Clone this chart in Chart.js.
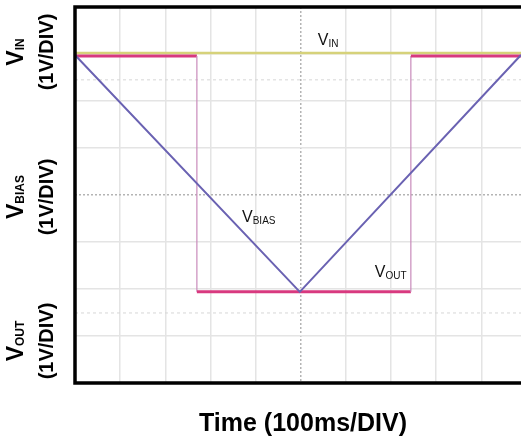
<!DOCTYPE html>
<html><head><meta charset="utf-8">
<script src="https://cdn.jsdelivr.net/npm/chart.js@4"></script>
<style>
html,body{margin:0;padding:0;background:#fff;overflow:hidden;}
#wrap{position:relative;width:521px;height:437px;}
#c{position:absolute;left:0;top:0;}
.yl{position:absolute;font-family:"Liberation Sans",Arial,sans-serif;font-weight:bold;color:#000;transform:translate(-50%,-50%) rotate(-90deg);text-align:center;white-space:nowrap;line-height:27px;font-size:20px;}
.yl .v{font-size:23px;}
.yl sub{font-size:12px;vertical-align:baseline;position:relative;top:1px;}
#xt{position:absolute;left:103px;width:400px;top:408px;line-height:25px;text-align:center;font:bold 25px "Liberation Sans",Arial,sans-serif;color:#000;}
</style></head>
<body>
<div id="wrap">
<canvas id="c" width="521" height="437"></canvas>
<div class="yl" style="left:31px;top:52px;"><span class="v">V<sub>IN</sub></span><br>(1V/DIV)</div>
<div class="yl" style="left:31px;top:197px;"><span class="v">V<sub>BIAS</sub></span><br>(1V/DIV)</div>
<div class="yl" style="left:31px;top:341px;"><span class="v">V<sub>OUT</sub></span><br>(1V/DIV)</div>
<div id="xt">Time (100ms/DIV)</div>
</div>
<script>
// time in divisions (100 ms/DIV), voltage in divisions (1 V/DIV)
const vinX = [0, 9.88];
const vinY = [7.02, 7.02];
const voutX = [0, 2.70, 2.70, 7.44, 7.44, 9.88];
const voutY = [6.96, 6.96, 1.94, 1.94, 6.96, 6.96];
const biasX = [0, 4.98, 9.88];
const biasY = [6.98, 1.94, 6.98];
const cursorY = [6.45, 1.49];
const xRange = [0, 9.88];
const yRange = [0, 8];
const traceLabels = [
  {main: 'V', sub: 'IN', x: 5.38, y: 7.19},
  {main: 'V', sub: 'BIAS', x: 3.70, y: 3.43},
  {main: 'V', sub: 'OUT', x: 6.64, y: 2.26}
];

const pts = (xs, ys) => xs.map((x, i) => ({x, y: ys[i]}));

const cursorSets = cursorY.map(v => ({
  data: pts(xRange, [v, v]),
  borderColor: '#d6d6d6', borderWidth: 1, borderDash: [3, 3],
  pointRadius: 0, order: 4
}));

const deco = {
  id: 'deco',
  afterDatasetsDraw(c) {
    const {ctx, chartArea: a, scales: {x, y}} = c;
    ctx.save();
    ctx.strokeStyle = '#000';
    ctx.lineWidth = 3.5;
    ctx.beginPath();
    ctx.moveTo(a.right + 3, a.top);
    ctx.lineTo(a.left, a.top);
    ctx.lineTo(a.left, a.bottom);
    ctx.lineTo(a.right + 3, a.bottom);
    ctx.stroke();
    ctx.fillStyle = '#111';
    ctx.textBaseline = 'alphabetic';
    traceLabels.forEach(l => {
      const px = x.getPixelForValue(l.x), py = y.getPixelForValue(l.y);
      ctx.font = '16px "Liberation Sans", Arial, sans-serif';
      ctx.fillText(l.main, px, py);
      const w = ctx.measureText(l.main).width;
      ctx.font = '10px "Liberation Sans", Arial, sans-serif';
      ctx.fillText(l.sub, px + w, py + 2);
    });
    ctx.restore();
  }
};

new Chart(document.getElementById('c'), {
  type: 'line',
  data: {
    datasets: [
      {label: 'VBIAS', data: pts(biasX, biasY), borderColor: '#6a62b2', borderWidth: 2, pointRadius: 0, order: 0},
      {label: 'VOUT', data: pts(voutX, voutY), borderColor: '#d8397f', borderWidth: 3, pointRadius: 0, order: 1,
        segment: {
          borderWidth: s => s.p0.parsed.x === s.p1.parsed.x ? 1.2 : 3,
          borderColor: s => s.p0.parsed.x === s.p1.parsed.x ? '#c98bbb' : '#d8397f'
        }},
      {label: 'VIN', data: pts(vinX, vinY), borderColor: '#d6d27a', borderWidth: 2.5, pointRadius: 0, order: 2},
      ...cursorSets
    ]
  },
  options: {
    responsive: false,
    animation: false,
    events: [],
    layout: {padding: {left: 75, top: 7, right: 0, bottom: 54}},
    plugins: {legend: {display: false}, tooltip: {enabled: false}},
    scales: {
      x: {
        type: 'linear', min: xRange[0], max: xRange[1],
        ticks: {display: false, stepSize: 1, includeBounds: false},
        grid: {drawTicks: false, lineWidth: 1.5,
          color: c => c.tick && c.tick.value === 5 ? '#b4b4b4' : '#e4e4e4'},
        border: {display: false, dash: c => c.tick && c.tick.value === 5 ? [2, 2] : []}
      },
      y: {
        type: 'linear', min: yRange[0], max: yRange[1],
        ticks: {display: false, stepSize: 1},
        grid: {drawTicks: false, lineWidth: 1.5,
          color: c => c.tick && c.tick.value === 4 ? '#b4b4b4' : '#e4e4e4'},
        border: {display: false, dash: c => c.tick && c.tick.value === 4 ? [2, 2] : []}
      }
    }
  },
  plugins: [deco]
});
</script>
</body></html>
